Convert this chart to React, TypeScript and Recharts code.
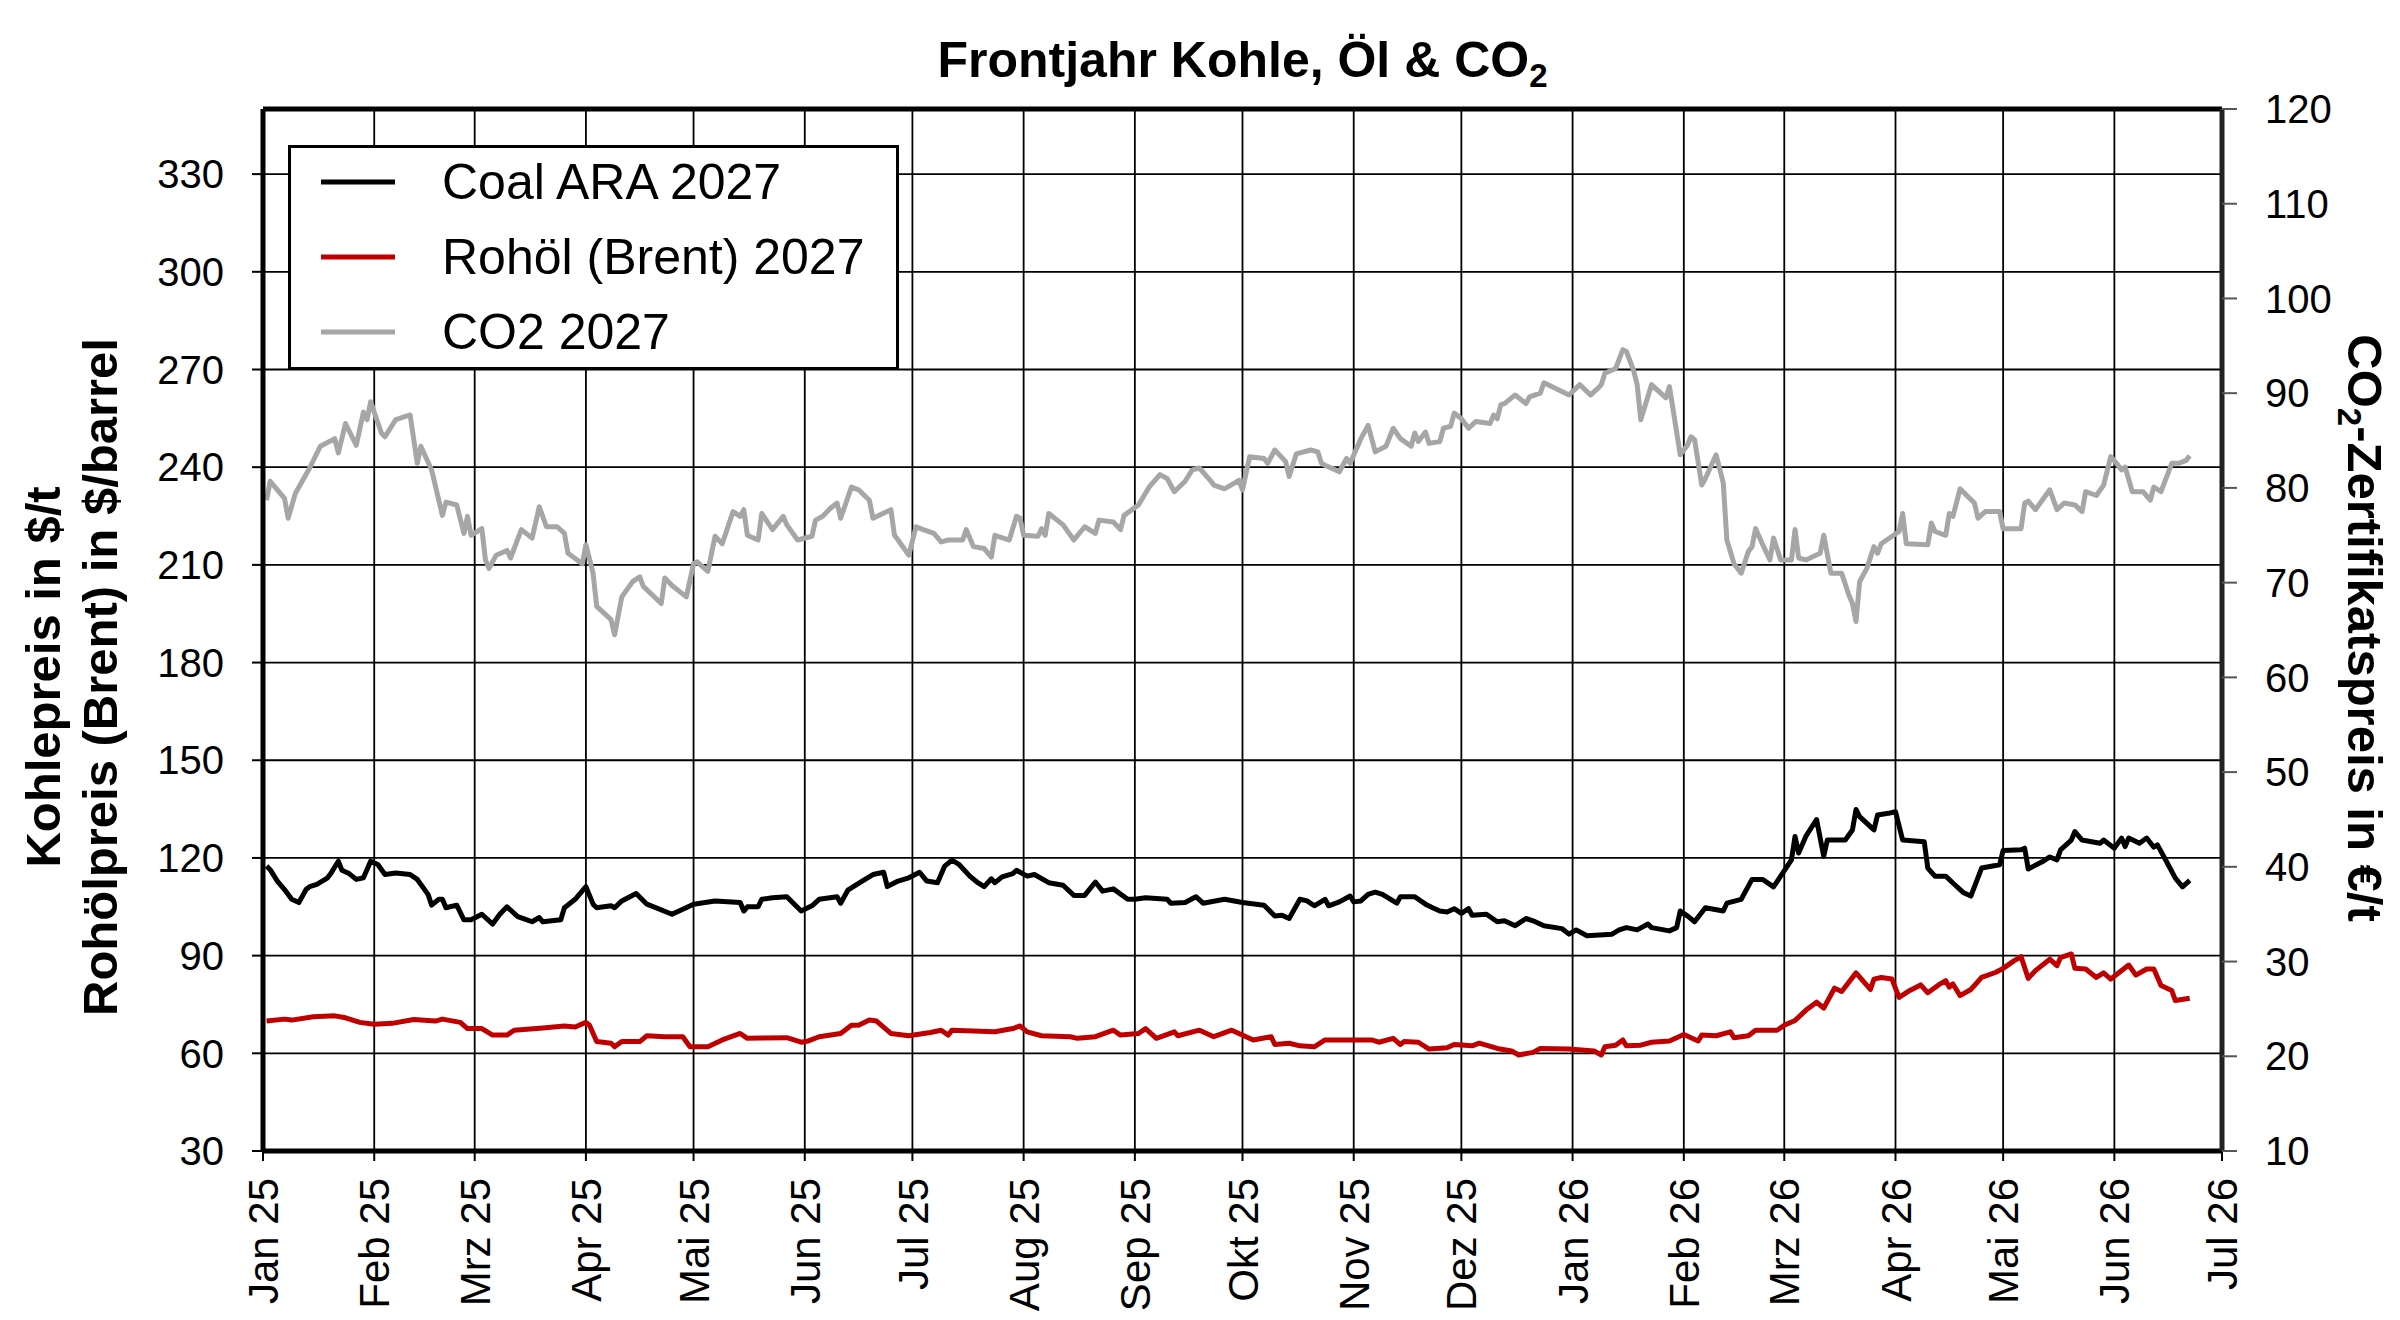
import React from "react";
import {
  LineChart,
  Line,
  XAxis,
  YAxis,
  CartesianGrid,
  ReferenceLine,
} from "recharts";

// ---------- data ----------
const monthTicks: string[] = [
  "2025-01-01", "2025-02-01", "2025-03-01", "2025-04-01", "2025-05-01", "2025-06-01",
  "2025-07-01", "2025-08-01", "2025-09-01", "2025-10-01", "2025-11-01", "2025-12-01",
  "2026-01-01", "2026-02-01", "2026-03-01", "2026-04-01", "2026-05-01", "2026-06-01",
  "2026-07-01",
];
const monthNames: string[] = ["Jan", "Feb", "Mrz", "Apr", "Mai", "Jun", "Jul", "Aug", "Sep", "Okt", "Nov", "Dez"];
const leftTicks: number[] = [30, 60, 90, 120, 150, 180, 210, 240, 270, 300, 330];
const rightTicks: number[] = [10, 20, 30, 40, 50, 60, 70, 80, 90, 100, 110, 120];

const coalPrices: [string, number][] = [
  ["2025-01-02", 117.5], ["2025-01-03", 116.4], ["2025-01-05", 112.9], ["2025-01-07", 110.3],
  ["2025-01-09", 107.3], ["2025-01-11", 106.3], ["2025-01-13", 110.3], ["2025-01-14", 111.2],
  ["2025-01-16", 111.9], ["2025-01-19", 113.9], ["2025-01-20", 115.4], ["2025-01-22", 119.0],
  ["2025-01-23", 116.2], ["2025-01-25", 115.2], ["2025-01-27", 113.4], ["2025-01-29", 113.9],
  ["2025-01-31", 119.0], ["2025-02-02", 118.0], ["2025-02-04", 114.9], ["2025-02-07", 115.4],
  ["2025-02-11", 114.9], ["2025-02-13", 113.4], ["2025-02-16", 108.8], ["2025-02-17", 105.5],
  ["2025-02-19", 107.3], ["2025-02-20", 107.3], ["2025-02-21", 104.7], ["2025-02-24", 105.5],
  ["2025-02-26", 101.0], ["2025-02-28", 101.0], ["2025-03-03", 102.7], ["2025-03-06", 99.7],
  ["2025-03-08", 102.7], ["2025-03-10", 105.0], ["2025-03-13", 102.0], ["2025-03-15", 101.2],
  ["2025-03-17", 100.4], ["2025-03-19", 101.7], ["2025-03-20", 100.4], ["2025-03-25", 101.0],
  ["2025-03-26", 104.7], ["2025-03-29", 107.3], ["2025-04-01", 111.2], ["2025-04-03", 105.8],
  ["2025-04-04", 104.7], ["2025-04-08", 105.3], ["2025-04-09", 104.7], ["2025-04-11", 106.8],
  ["2025-04-15", 109.1], ["2025-04-18", 105.8], ["2025-04-25", 102.7], ["2025-05-01", 105.8],
  ["2025-05-07", 106.8], ["2025-05-14", 106.3], ["2025-05-15", 103.7], ["2025-05-16", 105.0],
  ["2025-05-19", 105.0], ["2025-05-20", 107.3], ["2025-05-23", 107.8], ["2025-05-27", 108.1],
  ["2025-05-31", 103.7], ["2025-06-03", 105.3], ["2025-06-05", 107.3], ["2025-06-10", 108.1],
  ["2025-06-11", 106.1], ["2025-06-13", 110.1], ["2025-06-17", 112.9], ["2025-06-20", 114.9],
  ["2025-06-23", 115.6], ["2025-06-24", 111.2], ["2025-06-27", 112.9], ["2025-06-30", 113.9],
  ["2025-07-03", 115.6], ["2025-07-05", 112.9], ["2025-07-08", 112.4], ["2025-07-10", 117.5],
  ["2025-07-12", 119.3], ["2025-07-14", 118.0], ["2025-07-17", 114.4], ["2025-07-19", 112.6],
  ["2025-07-21", 111.2], ["2025-07-23", 113.6], ["2025-07-24", 112.4], ["2025-07-26", 114.2],
  ["2025-07-29", 115.2], ["2025-07-30", 116.2], ["2025-08-02", 114.4], ["2025-08-04", 114.9],
  ["2025-08-08", 112.4], ["2025-08-12", 111.6], ["2025-08-15", 108.5], ["2025-08-18", 108.5],
  ["2025-08-21", 112.6], ["2025-08-23", 109.8], ["2025-08-26", 110.5], ["2025-08-30", 107.3],
  ["2025-09-01", 107.3], ["2025-09-04", 107.8], ["2025-09-10", 107.3], ["2025-09-11", 106.1],
  ["2025-09-15", 106.3], ["2025-09-18", 108.1], ["2025-09-20", 106.1], ["2025-09-26", 107.3],
  ["2025-10-01", 106.3], ["2025-10-07", 105.5], ["2025-10-10", 102.2], ["2025-10-12", 102.4],
  ["2025-10-14", 101.4], ["2025-10-17", 107.3], ["2025-10-19", 106.8], ["2025-10-21", 105.3],
  ["2025-10-24", 107.3], ["2025-10-25", 105.3], ["2025-10-28", 106.5], ["2025-10-31", 108.3],
  ["2025-11-01", 106.5], ["2025-11-03", 106.8], ["2025-11-05", 108.8], ["2025-11-07", 109.5],
  ["2025-11-09", 108.8], ["2025-11-13", 106.1], ["2025-11-14", 108.1], ["2025-11-18", 108.1],
  ["2025-11-21", 105.8], ["2025-11-23", 104.7], ["2025-11-25", 103.7], ["2025-11-27", 103.4],
  ["2025-11-29", 104.4], ["2025-12-01", 103.0], ["2025-12-03", 104.4], ["2025-12-04", 102.4],
  ["2025-12-08", 102.7], ["2025-12-11", 100.4], ["2025-12-13", 100.7], ["2025-12-16", 99.2],
  ["2025-12-19", 101.4], ["2025-12-21", 100.7], ["2025-12-24", 99.2], ["2025-12-29", 98.3],
  ["2025-12-31", 96.6], ["2026-01-02", 97.9], ["2026-01-05", 96.1], ["2026-01-12", 96.6],
  ["2026-01-14", 97.9], ["2026-01-16", 98.6], ["2026-01-19", 97.9], ["2026-01-22", 99.7],
  ["2026-01-23", 98.6], ["2026-01-28", 97.6], ["2026-01-30", 98.6], ["2026-01-31", 103.7],
  ["2026-02-02", 102.2], ["2026-02-04", 100.4], ["2026-02-07", 104.7], ["2026-02-12", 103.7],
  ["2026-02-13", 106.1], ["2026-02-17", 107.3], ["2026-02-20", 113.4], ["2026-02-23", 113.4],
  ["2026-02-26", 111.1], ["2026-02-28", 114.4], ["2026-03-03", 119.4], ["2026-03-04", 126.6],
  ["2026-03-05", 121.5], ["2026-03-07", 126.6], ["2026-03-10", 131.8], ["2026-03-12", 120.5],
  ["2026-03-13", 125.5], ["2026-03-18", 125.5], ["2026-03-20", 128.6], ["2026-03-21", 134.9],
  ["2026-03-22", 132.7], ["2026-03-26", 128.6], ["2026-03-27", 133.2], ["2026-03-30", 133.7],
  ["2026-04-01", 134.2], ["2026-04-03", 125.5], ["2026-04-09", 125.0], ["2026-04-10", 116.9],
  ["2026-04-12", 114.4], ["2026-04-15", 114.4], ["2026-04-17", 112.3], ["2026-04-20", 109.3],
  ["2026-04-22", 108.3], ["2026-04-25", 116.9], ["2026-04-30", 117.9], ["2026-05-01", 122.3],
  ["2026-05-06", 122.5], ["2026-05-07", 123.0], ["2026-05-08", 116.6], ["2026-05-12", 118.9],
  ["2026-05-14", 120.3], ["2026-05-16", 119.4], ["2026-05-17", 122.5], ["2026-05-20", 125.5],
  ["2026-05-21", 128.1], ["2026-05-23", 125.5], ["2026-05-28", 124.5], ["2026-05-29", 125.5],
  ["2026-06-01", 123.0], ["2026-06-03", 126.1], ["2026-06-04", 123.5], ["2026-06-05", 126.1],
  ["2026-06-08", 124.5], ["2026-06-10", 126.1], ["2026-06-12", 123.3], ["2026-06-13", 124.0],
  ["2026-06-15", 120.0], ["2026-06-18", 113.8], ["2026-06-20", 111.1], ["2026-06-22", 113.1],
];

const brentPrices: [string, number][] = [
  ["2025-01-02", 69.9], ["2025-01-07", 70.5], ["2025-01-09", 70.2], ["2025-01-15", 71.2],
  ["2025-01-21", 71.5], ["2025-01-24", 70.9], ["2025-01-28", 69.5], ["2025-02-01", 68.9],
  ["2025-02-06", 69.2], ["2025-02-12", 70.4], ["2025-02-18", 69.9], ["2025-02-20", 70.5],
  ["2025-02-25", 69.5], ["2025-02-27", 67.6], ["2025-03-03", 67.6], ["2025-03-06", 65.6],
  ["2025-03-10", 65.6], ["2025-03-12", 67.1], ["2025-03-20", 67.8], ["2025-03-26", 68.4],
  ["2025-03-29", 68.1], ["2025-04-01", 69.5], ["2025-04-02", 68.6], ["2025-04-04", 63.6],
  ["2025-04-08", 63.1], ["2025-04-09", 62.0], ["2025-04-11", 63.6], ["2025-04-16", 63.6],
  ["2025-04-18", 65.4], ["2025-04-23", 65.1], ["2025-04-28", 65.1], ["2025-04-30", 62.0],
  ["2025-05-05", 62.0], ["2025-05-09", 64.1], ["2025-05-14", 66.1], ["2025-05-16", 64.6],
  ["2025-05-20", 64.7], ["2025-05-27", 64.8], ["2025-05-31", 63.4], ["2025-06-02", 63.8],
  ["2025-06-05", 65.1], ["2025-06-11", 66.1], ["2025-06-14", 68.6], ["2025-06-16", 68.6],
  ["2025-06-19", 70.2], ["2025-06-21", 69.9], ["2025-06-25", 66.1], ["2025-06-30", 65.4],
  ["2025-07-06", 66.4], ["2025-07-09", 67.1], ["2025-07-11", 65.6], ["2025-07-12", 67.1],
  ["2025-07-24", 66.6], ["2025-07-29", 67.6], ["2025-07-31", 68.4], ["2025-08-02", 66.6],
  ["2025-08-06", 65.4], ["2025-08-14", 65.1], ["2025-08-16", 64.6], ["2025-08-21", 65.1],
  ["2025-08-26", 67.1], ["2025-08-28", 65.6], ["2025-09-02", 66.1], ["2025-09-04", 67.6],
  ["2025-09-07", 64.6], ["2025-09-12", 66.6], ["2025-09-13", 65.4], ["2025-09-19", 67.1],
  ["2025-09-23", 65.1], ["2025-09-28", 67.1], ["2025-10-04", 64.1], ["2025-10-07", 64.7],
  ["2025-10-09", 65.1], ["2025-10-10", 62.7], ["2025-10-14", 63.1], ["2025-10-17", 62.3],
  ["2025-10-21", 62.0], ["2025-10-24", 64.1], ["2025-11-06", 64.1], ["2025-11-08", 63.4],
  ["2025-11-12", 64.6], ["2025-11-14", 62.7], ["2025-11-15", 63.6], ["2025-11-19", 63.4],
  ["2025-11-22", 61.3], ["2025-11-27", 61.7], ["2025-11-29", 62.7], ["2025-12-04", 62.3],
  ["2025-12-06", 63.1], ["2025-12-11", 61.5], ["2025-12-15", 60.7], ["2025-12-17", 59.5],
  ["2025-12-21", 60.3], ["2025-12-23", 61.5], ["2025-12-31", 61.3], ["2026-01-07", 60.7],
  ["2026-01-09", 59.5], ["2026-01-10", 62.0], ["2026-01-13", 62.5], ["2026-01-15", 64.1],
  ["2026-01-16", 62.3], ["2026-01-20", 62.5], ["2026-01-23", 63.4], ["2026-01-28", 63.8],
  ["2026-01-30", 64.8], ["2026-02-01", 65.8], ["2026-02-05", 63.8], ["2026-02-06", 65.6],
  ["2026-02-10", 65.4], ["2026-02-14", 66.6], ["2026-02-15", 64.8], ["2026-02-19", 65.4],
  ["2026-02-21", 67.1], ["2026-02-24", 67.1], ["2026-02-27", 67.1], ["2026-03-01", 68.6],
  ["2026-03-04", 70.1], ["2026-03-07", 73.2], ["2026-03-10", 75.7], ["2026-03-12", 73.9],
  ["2026-03-15", 80.0], ["2026-03-17", 79.0], ["2026-03-21", 84.7], ["2026-03-25", 79.6],
  ["2026-03-26", 82.8], ["2026-03-28", 83.3], ["2026-03-31", 82.8], ["2026-04-02", 77.2],
  ["2026-04-05", 79.3], ["2026-04-08", 81.0], ["2026-04-10", 78.6], ["2026-04-13", 81.0],
  ["2026-04-15", 82.3], ["2026-04-16", 80.3], ["2026-04-17", 81.3], ["2026-04-19", 77.7],
  ["2026-04-22", 79.6], ["2026-04-25", 83.3], ["2026-04-29", 84.9], ["2026-05-01", 86.1],
  ["2026-05-04", 88.4], ["2026-05-06", 89.7], ["2026-05-08", 83.0], ["2026-05-10", 85.4],
  ["2026-05-14", 88.9], ["2026-05-16", 86.9], ["2026-05-17", 89.4], ["2026-05-20", 90.5],
  ["2026-05-21", 86.1], ["2026-05-24", 85.9], ["2026-05-27", 83.3], ["2026-05-29", 84.7],
  ["2026-05-31", 82.8], ["2026-06-05", 87.1], ["2026-06-07", 84.0], ["2026-06-10", 85.9],
  ["2026-06-12", 85.9], ["2026-06-14", 80.8], ["2026-06-17", 79.3], ["2026-06-18", 76.2],
  ["2026-06-22", 76.9],
];

const co2Prices: [string, number][] = [
  ["2025-01-02", 78.7], ["2025-01-03", 80.7], ["2025-01-07", 78.9], ["2025-01-08", 76.8],
  ["2025-01-10", 79.4], ["2025-01-14", 82.1], ["2025-01-17", 84.4], ["2025-01-21", 85.2],
  ["2025-01-22", 83.7], ["2025-01-24", 86.8], ["2025-01-27", 84.5], ["2025-01-29", 88.0],
  ["2025-01-30", 87.2], ["2025-01-31", 89.1], ["2025-02-03", 85.8], ["2025-02-04", 85.4],
  ["2025-02-07", 87.2], ["2025-02-11", 87.7], ["2025-02-13", 82.6], ["2025-02-14", 84.4],
  ["2025-02-17", 81.9], ["2025-02-20", 77.1], ["2025-02-21", 78.5], ["2025-02-24", 78.2],
  ["2025-02-26", 75.2], ["2025-02-27", 77.0], ["2025-02-28", 75.0], ["2025-03-03", 75.7],
  ["2025-03-04", 72.4], ["2025-03-05", 71.5], ["2025-03-07", 72.9], ["2025-03-10", 73.4],
  ["2025-03-11", 72.6], ["2025-03-14", 75.6], ["2025-03-17", 74.7], ["2025-03-19", 78.0],
  ["2025-03-21", 75.9], ["2025-03-24", 75.9], ["2025-03-26", 75.2], ["2025-03-27", 73.1],
  ["2025-03-31", 72.0], ["2025-04-01", 74.0], ["2025-04-03", 71.0], ["2025-04-04", 67.5],
  ["2025-04-08", 66.1], ["2025-04-09", 64.5], ["2025-04-11", 68.5], ["2025-04-14", 70.1],
  ["2025-04-16", 70.6], ["2025-04-17", 69.6], ["2025-04-22", 67.8], ["2025-04-23", 70.5],
  ["2025-04-25", 69.7], ["2025-04-29", 68.5], ["2025-05-01", 72.0], ["2025-05-02", 72.2],
  ["2025-05-05", 71.2], ["2025-05-07", 74.9], ["2025-05-09", 74.1], ["2025-05-12", 77.5],
  ["2025-05-14", 77.0], ["2025-05-15", 77.7], ["2025-05-16", 75.0], ["2025-05-19", 74.5],
  ["2025-05-20", 77.3], ["2025-05-23", 75.6], ["2025-05-26", 77.0], ["2025-05-27", 76.1],
  ["2025-05-30", 74.5], ["2025-06-03", 74.9], ["2025-06-04", 76.6], ["2025-06-06", 77.0],
  ["2025-06-08", 77.8], ["2025-06-10", 78.4], ["2025-06-11", 76.8], ["2025-06-14", 80.1],
  ["2025-06-16", 79.8], ["2025-06-19", 78.7], ["2025-06-20", 76.8], ["2025-06-25", 77.7],
  ["2025-06-26", 75.0], ["2025-06-27", 74.5], ["2025-06-30", 72.9], ["2025-07-02", 75.9],
  ["2025-07-04", 75.6], ["2025-07-07", 75.2], ["2025-07-09", 74.3], ["2025-07-11", 74.5],
  ["2025-07-15", 74.5], ["2025-07-16", 75.6], ["2025-07-18", 73.8], ["2025-07-21", 73.6],
  ["2025-07-23", 72.7], ["2025-07-24", 75.0], ["2025-07-28", 74.5], ["2025-07-30", 77.0],
  ["2025-07-31", 76.8], ["2025-08-01", 75.0], ["2025-08-05", 74.9], ["2025-08-06", 75.7],
  ["2025-08-07", 75.0], ["2025-08-08", 77.3], ["2025-08-12", 76.1], ["2025-08-15", 74.5],
  ["2025-08-18", 75.9], ["2025-08-21", 75.2], ["2025-08-22", 76.6], ["2025-08-26", 76.4],
  ["2025-08-28", 75.6], ["2025-08-29", 77.1], ["2025-09-02", 78.2], ["2025-09-05", 80.1],
  ["2025-09-08", 81.4], ["2025-09-10", 81.0], ["2025-09-12", 79.6], ["2025-09-15", 80.7],
  ["2025-09-17", 81.9], ["2025-09-19", 82.1], ["2025-09-22", 80.8], ["2025-09-23", 80.3],
  ["2025-09-26", 79.9], ["2025-09-30", 80.8], ["2025-10-01", 79.8], ["2025-10-03", 83.3],
  ["2025-10-07", 83.1], ["2025-10-08", 82.6], ["2025-10-10", 84.0], ["2025-10-13", 82.8],
  ["2025-10-14", 81.2], ["2025-10-16", 83.6], ["2025-10-20", 84.0], ["2025-10-22", 83.8],
  ["2025-10-23", 82.6], ["2025-10-24", 82.4], ["2025-10-28", 81.7], ["2025-10-30", 83.1],
  ["2025-10-31", 82.6], ["2025-11-03", 85.2], ["2025-11-05", 86.6], ["2025-11-07", 83.8],
  ["2025-11-10", 84.4], ["2025-11-12", 86.3], ["2025-11-14", 85.2], ["2025-11-17", 84.4],
  ["2025-11-18", 85.8], ["2025-11-19", 84.9], ["2025-11-21", 85.9], ["2025-11-22", 84.7],
  ["2025-11-25", 84.9], ["2025-11-26", 86.3], ["2025-11-28", 86.5], ["2025-11-29", 87.9],
  ["2025-12-01", 87.3], ["2025-12-03", 86.3], ["2025-12-05", 87.0], ["2025-12-09", 86.8],
  ["2025-12-10", 87.7], ["2025-12-11", 87.3], ["2025-12-12", 88.8], ["2025-12-13", 88.9],
  ["2025-12-16", 89.8], ["2025-12-19", 88.9], ["2025-12-20", 89.6], ["2025-12-23", 90.0],
  ["2025-12-24", 91.1], ["2025-12-31", 89.8], ["2026-01-03", 90.9], ["2026-01-06", 89.8],
  ["2026-01-08", 90.5], ["2026-01-09", 90.9], ["2026-01-10", 92.1], ["2026-01-13", 92.6],
  ["2026-01-15", 94.6], ["2026-01-16", 94.4], ["2026-01-18", 92.4], ["2026-01-19", 90.9],
  ["2026-01-20", 87.2], ["2026-01-23", 90.9], ["2026-01-27", 89.5], ["2026-01-28", 90.7],
  ["2026-01-31", 83.5], ["2026-02-02", 84.5], ["2026-02-03", 85.4], ["2026-02-04", 85.1],
  ["2026-02-06", 80.3], ["2026-02-07", 81.0], ["2026-02-10", 83.5], ["2026-02-12", 80.5],
  ["2026-02-13", 74.5], ["2026-02-15", 72.0], ["2026-02-17", 71.0], ["2026-02-19", 73.3],
  ["2026-02-20", 73.8], ["2026-02-21", 75.7], ["2026-02-23", 74.0], ["2026-02-25", 72.4],
  ["2026-02-26", 74.7], ["2026-02-28", 72.4], ["2026-03-03", 72.4], ["2026-03-04", 75.6],
  ["2026-03-05", 72.6], ["2026-03-07", 72.4], ["2026-03-11", 73.1], ["2026-03-12", 75.0],
  ["2026-03-14", 71.0], ["2026-03-17", 71.0], ["2026-03-19", 68.7], ["2026-03-20", 67.8],
  ["2026-03-21", 65.9], ["2026-03-22", 70.1], ["2026-03-24", 71.5], ["2026-03-26", 73.8],
  ["2026-03-27", 73.1], ["2026-03-28", 74.1], ["2026-04-02", 75.4], ["2026-04-03", 77.3],
  ["2026-04-04", 74.1], ["2026-04-10", 74.0], ["2026-04-11", 76.3], ["2026-04-12", 75.4],
  ["2026-04-15", 75.0], ["2026-04-16", 77.3], ["2026-04-17", 77.0], ["2026-04-19", 79.9],
  ["2026-04-23", 78.4], ["2026-04-24", 76.8], ["2026-04-26", 77.5], ["2026-04-30", 77.5],
  ["2026-05-01", 75.7], ["2026-05-06", 75.7], ["2026-05-07", 78.4], ["2026-05-08", 78.6],
  ["2026-05-10", 77.7], ["2026-05-14", 79.8], ["2026-05-16", 77.7], ["2026-05-18", 78.4],
  ["2026-05-21", 78.2], ["2026-05-23", 77.5], ["2026-05-24", 79.6], ["2026-05-27", 79.2],
  ["2026-05-29", 80.3], ["2026-05-31", 83.3], ["2026-06-02", 82.4], ["2026-06-03", 81.9],
  ["2026-06-04", 82.2], ["2026-06-06", 79.6], ["2026-06-09", 79.6], ["2026-06-11", 78.7],
  ["2026-06-12", 80.1], ["2026-06-14", 79.6], ["2026-06-17", 82.6], ["2026-06-19", 82.6],
  ["2026-06-21", 82.9], ["2026-06-22", 83.4],
];

// ---------- helpers ----------
const toT = (s: string): number =>
  Date.UTC(Number(s.slice(0, 4)), Number(s.slice(5, 7)) - 1, Number(s.slice(8, 10)));
const toRows = (arr: [string, number][]) => arr.map(([d, v]) => ({ t: toT(d), v }));

const coalData = toRows(coalPrices);
const brentData = toRows(brentPrices);
const co2Data = toRows(co2Prices);
const xTicks = monthTicks.map(toT);
const xDomain: [number, number] = [xTicks[0], xTicks[xTicks.length - 1]];

const formatMonth = (t: number): string => {
  const d = new Date(t);
  return `${monthNames[d.getUTCMonth()]} ${String(d.getUTCFullYear()).slice(2)}`;
};

const FONT = "'Liberation Sans', Arial, Helvetica, sans-serif";

const W = 2400;
const H = 1320;
const PLOT_LEFT = 263;
const PLOT_RIGHT = 2222;
const PLOT_TOP = 109;
const PLOT_BOTTOM = 1151;
const LEFT_AXIS_W = 120;
const RIGHT_AXIS_W = 140;
const X_AXIS_H = 150;

const XTick = (props: any) => {
  const { x, y, payload } = props;
  return (
    <text
      x={0}
      y={0}
      transform={`translate(${x},${y}) rotate(-90)`}
      textAnchor="end"
      dy="0.36em"
      fontSize={42}
      fontFamily={FONT}
      fill="#000"
    >
      {formatMonth(payload.value)}
    </text>
  );
};

const legendItems = [
  { label: "Coal ARA 2027", color: "#000000" },
  { label: "Rohöl (Brent) 2027", color: "#C00000" },
  { label: "CO2 2027", color: "#A6A6A6" },
];

export default function App() {
  return (
    <div style={{ position: "absolute", left: 0, top: 0, width: W, height: H, background: "#fff" }}>
      <LineChart
        width={W}
        height={H}
        margin={{
          top: PLOT_TOP,
          left: PLOT_LEFT - LEFT_AXIS_W,
          right: W - PLOT_RIGHT - RIGHT_AXIS_W,
          bottom: H - PLOT_BOTTOM - X_AXIS_H,
        }}
      >
        <CartesianGrid yAxisId="left" stroke="#000" strokeWidth={1.8} />
        <XAxis
          dataKey="t"
          type="number"
          scale="linear"
          domain={xDomain}
          ticks={xTicks}
          allowDataOverflow
          interval={0}
          height={X_AXIS_H}
          tick={<XTick />}
          tickSize={10}
          tickMargin={17}
          axisLine={{ stroke: "#000", strokeWidth: 5 }}
          tickLine={{ stroke: "#000", strokeWidth: 2 }}
        />
        <YAxis
          yAxisId="left"
          orientation="left"
          domain={[30, 350]}
          ticks={leftTicks}
          interval={0}
          allowDataOverflow
          width={LEFT_AXIS_W}
          tickSize={11}
          tickMargin={28}
          tick={{ fill: "#000", fontSize: 40, fontFamily: FONT }}
          axisLine={{ stroke: "#000", strokeWidth: 5 }}
          tickLine={{ stroke: "#000", strokeWidth: 2 }}
        />
        <YAxis
          yAxisId="right"
          orientation="right"
          domain={[10, 120]}
          ticks={rightTicks}
          interval={0}
          allowDataOverflow
          width={RIGHT_AXIS_W}
          tickSize={15}
          tickMargin={28}
          tick={{ fill: "#000", fontSize: 40, fontFamily: FONT, textAnchor: "start" }}
          axisLine={{ stroke: "#222", strokeWidth: 5 }}
          tickLine={{ stroke: "#555", strokeWidth: 2 }}
        />
        <ReferenceLine yAxisId="left" y={350} stroke="#000" strokeWidth={5} />
        <Line
          yAxisId="right"
          data={co2Data}
          dataKey="v"
          type="linear"
          stroke="#A6A6A6"
          strokeWidth={5}
          dot={false}
          isAnimationActive={false}
          strokeLinejoin="round"
        />
        <Line
          yAxisId="left"
          data={coalData}
          dataKey="v"
          type="linear"
          stroke="#000000"
          strokeWidth={5}
          dot={false}
          isAnimationActive={false}
          strokeLinejoin="round"
        />
        <Line
          yAxisId="left"
          data={brentData}
          dataKey="v"
          type="linear"
          stroke="#C00000"
          strokeWidth={5}
          dot={false}
          isAnimationActive={false}
          strokeLinejoin="round"
        />
      </LineChart>

      <svg
        width={W}
        height={H}
        style={{ position: "absolute", left: 0, top: 0, pointerEvents: "none" }}
      >
        {/* title */}
        <text x={(PLOT_LEFT + PLOT_RIGHT) / 2} y={77} textAnchor="middle" fontFamily={FONT} fontWeight="bold" fontSize={50} fill="#000">
          Frontjahr Kohle, Öl &amp; CO
          <tspan fontSize={33} dy={10}>2</tspan>
        </text>

        {/* left axis titles */}
        <text transform="translate(60,677) rotate(-90)" textAnchor="middle" fontFamily={FONT} fontWeight="bold" fontSize={49} fill="#000">
          Kohlepreis in $/t
        </text>
        <text transform="translate(117,677) rotate(-90)" textAnchor="middle" fontFamily={FONT} fontWeight="bold" fontSize={49} fill="#000">
          Rohölpreis (Brent) in $/barrel
        </text>

        {/* right axis title */}
        <text transform="translate(2348,628) rotate(90)" textAnchor="middle" fontFamily={FONT} fontWeight="bold" fontSize={49} fill="#000">
          CO
          <tspan fontSize={33} dy={10}>2</tspan>
          <tspan dy={-10}>-Zertifikatspreis in €/t</tspan>
        </text>

        {/* legend */}
        <rect x={289.5} y={146.5} width={608} height={222} fill="#fff" stroke="#000" strokeWidth={3} />
        {legendItems.map((it, i) => (
          <g key={it.label}>
            <line x1={321} x2={395} y1={182 + i * 75} y2={182 + i * 75} stroke={it.color} strokeWidth={5} />
            <text x={442} y={199 + i * 75} fontFamily={FONT} fontSize={50} fill="#000">
              {it.label}
            </text>
          </g>
        ))}
      </svg>
    </div>
  );
}
